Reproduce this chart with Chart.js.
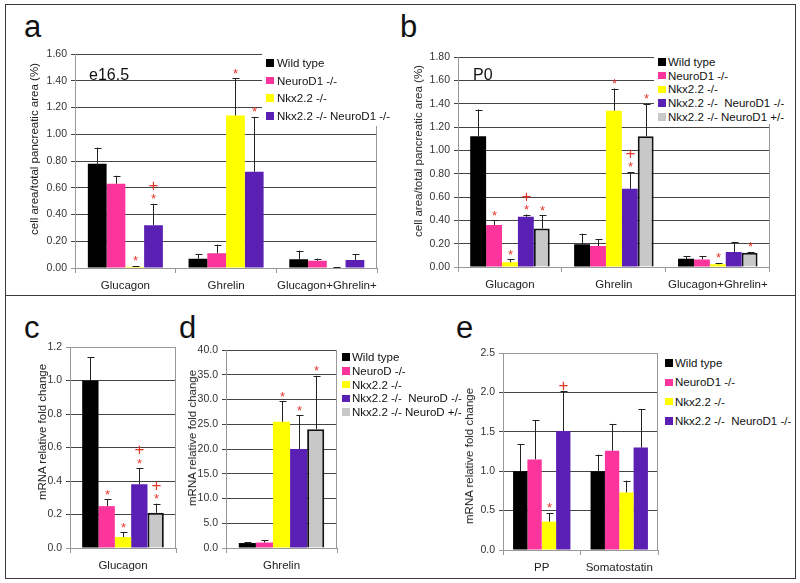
<!DOCTYPE html>
<html>
<head>
<meta charset="utf-8">
<script src="https://cdn.jsdelivr.net/npm/chart.js"></script>
<style>
  body { margin:0; background:#fff; font-family:"Liberation Sans", Arial, sans-serif; }
  #page { position:relative; width:800px; height:583px; overflow:hidden; }
  .box { position:absolute; box-sizing:border-box; border:1.5px solid #3a3a3a; }
  .wrap { position:absolute; }
  .letter { position:absolute; font-size:31px; line-height:1; color:#111; }
  .stage { position:absolute; font-size:16px; line-height:1; color:#111; }
  .legend { position:absolute; background:#fff; }
  .row { position:absolute; white-space:pre; font-size:11.5px; line-height:14px; color:#111; }
  .sw { position:absolute; width:7.5px; height:7.5px; }
  .ytitle { position:absolute; white-space:nowrap; font-size:11.5px; line-height:14px; color:#222;
            transform:translate(-50%, -50%) rotate(-90deg); }
</style>
</head>
<body>
<div id="page">
  <div class="box" style="left:5px;top:4px;width:791px;height:292px"></div>
  <div class="box" style="left:5px;top:294.5px;width:791px;height:284px"></div>

  <div class="letter" style="left:24px;top:11px">a</div>
  <div class="letter" style="left:400px;top:11px">b</div>
  <div class="letter" style="left:24px;top:312px">c</div>
  <div class="letter" style="left:179px;top:312px">d</div>
  <div class="letter" style="left:456px;top:312px">e</div>

  <div class="wrap" style="left:27px;top:40px"><canvas id="ca" width="356" height="254"></canvas></div>
  <div class="wrap" style="left:411px;top:43px"><canvas id="cb" width="363" height="250"></canvas></div>
  <div class="wrap" style="left:35px;top:333px"><canvas id="cc" width="143" height="241"></canvas></div>
  <div class="wrap" style="left:185px;top:336px"><canvas id="cd" width="154" height="238"></canvas></div>
  <div class="wrap" style="left:462px;top:339px"><canvas id="ce" width="198" height="237"></canvas></div>

  <div class="ytitle" style="left:33.5px;top:149px">cell area/total pancreatic area (%)</div>
  <div class="ytitle" style="left:418px;top:151px">cell area/total pancreatic area (%)</div>
  <div class="ytitle" style="left:42px;top:432px">mRNA relative fold change</div>
  <div class="ytitle" style="left:192px;top:438px">mRNA relative fold change</div>
  <div class="ytitle" style="left:469px;top:456px">mRNA relative fold change</div>

  <div class="stage" style="left:89px;top:66.5px">e16.5</div>
  <div class="stage" style="left:473px;top:66.5px">P0</div>
</div>

<script>
// ---- data ----
const catsTop = ['Glucagon', 'Ghrelin', 'Glucagon+Ghrelin+'];
const catsC = ['Glucagon'];
const catsD = ['Ghrelin'];
const catsE = ['PP', 'Somatostatin'];

const legendA = ['Wild type', 'NeuroD1 -/-', 'Nkx2.2 -/-', 'Nkx2.2 -/- NeuroD1 -/-'];
const legendB = ['Wild type', 'NeuroD1 -/-', 'Nkx2.2 -/-', 'Nkx2.2 -/-  NeuroD1 -/-', 'Nkx2.2 -/- NeuroD1 +/-'];
const legendD = ['Wild type', 'NeuroD -/-', 'Nkx2.2 -/-', 'Nkx2.2 -/-  NeuroD -/-', 'Nkx2.2 -/- NeuroD +/-'];
const legendE = ['Wild type', 'NeuroD1 -/-', 'Nkx2.2 -/-', 'Nkx2.2 -/-  NeuroD1 -/-'];

// a: e16.5, cell area / total pancreatic area (%)
const aWild    = [0.78, 0.07, 0.065];
const aNeuroD1 = [0.63, 0.11, 0.055];
const aNkx     = [0.01, 1.14, 0.003];
const aDouble  = [0.32, 0.72, 0.06];
const aErr = [[0.12, 0.035, 0.065], [0.06, 0.065, 0.015], [0.005, 0.28, 0.002], [0.16, 0.41, 0.045]];
const aMarks = [['', '', ''], ['', '', ''], ['*', '*', ''], ['*+', '*', '']];

// b: P0
const bWild    = [1.12, 0.195, 0.07];
const bNeuroD1 = [0.36, 0.18, 0.065];
const bNkx     = [0.04, 1.34, 0.023];
const bDouble  = [0.43, 0.67, 0.128];
const bHet     = [0.33, 1.12, 0.123];
const bErr = [[0.23, 0.09, 0.025], [0.04, 0.06, 0.03], [0.025, 0.19, 0.012], [0.02, 0.145, 0.087], [0.115, 0.28, 0.007]];
const bMarks = [['', '', ''], ['*', '', ''], ['*', '*', '*'], ['*+', '*+', ''], ['*', '*', '*']];

// c: glucagon mRNA
const cValues = [[1.00], [0.25], [0.065], [0.38], [0.21]];
const cErr = [[0.14], [0.04], [0.03], [0.095], [0.055]];
const cMarks = [[''], ['*'], ['*'], ['*+'], ['*+']];

// d: ghrelin mRNA
const dValues = [[1.0], [1.1], [25.5], [20.0], [24.0]];
const dErr = [[0.2], [0.5], [4.1], [6.8], [10.8]];
const dMarks = [[''], [''], ['*'], ['*'], ['*']];

// e: PP / somatostatin mRNA
const eWild    = [1.00, 1.00];
const eNeuroD1 = [1.15, 1.26];
const eNkx     = [0.36, 0.73];
const eDouble  = [1.51, 1.30];
const eErr = [[0.34, 0.21], [0.50, 0.34], [0.11, 0.15], [0.51, 0.49]];
const eMarks = [['', ''], ['', ''], ['*', ''], ['+', '']];

const ticksA = ['0.00', '0.20', '0.40', '0.60', '0.80', '1.00', '1.20', '1.40', '1.60'];
const ticksB = ['0.00', '0.20', '0.40', '0.60', '0.80', '1.00', '1.20', '1.40', '1.60', '1.80'];
const ticksC = ['0.0', '0.2', '0.4', '0.6', '0.8', '1.0', '1.2'];
const ticksD = ['0.0', '5.0', '10.0', '15.0', '20.0', '25.0', '30.0', '35.0', '40.0'];
const ticksE = ['0.0', '0.5', '1.0', '1.5', '2.0', '2.5'];

const colors = ['#000000', '#fb359c', '#ffff00', '#5a20b4', '#c8c8c8'];
const F = '"Liberation Sans", Arial, sans-serif';

// error bars + significance marks
const errorBars = {
  id: 'errorBars',
  afterDatasetsDraw(chart, args, opt) {
    const { ctx } = chart, y = chart.scales.y;
    chart.data.datasets.forEach((ds, i) => {
      chart.getDatasetMeta(i).data.forEach((bar, j) => {
        const v = ds.data[j], e = opt.errs[i][j];
        const top = y.getPixelForValue(v + e);
        const x = Math.round(bar.x) + 0.5;
        ctx.save();
        ctx.strokeStyle = '#222'; ctx.lineWidth = 1;
        ctx.beginPath();
        ctx.moveTo(x, bar.y); ctx.lineTo(x, top);
        ctx.moveTo(x - 3, Math.round(top) + 0.5); ctx.lineTo(x + 4, Math.round(top) + 0.5);
        ctx.stroke();
        const m = opt.marks[i][j];
        ctx.fillStyle = '#e5352b'; ctx.textAlign = 'center'; ctx.textBaseline = 'alphabetic';
        let base = top;
        if (m.includes('*')) {
          ctx.font = '13px ' + F;
          ctx.fillText('*', x, base - 0.5);
          base -= 13;
        }
        if (m.includes('+')) {
          ctx.font = '17px ' + F;
          ctx.fillText('+', x, base);
        }
        ctx.restore();
      });
    });
  }
};

const frame = {
  id: 'frame',
  beforeDatasetsDraw(chart) {
    const { ctx, chartArea: a } = chart;
    ctx.save();
    ctx.strokeStyle = '#999'; ctx.lineWidth = 1;
    ctx.beginPath();
    ctx.moveTo(Math.round(a.right) - 0.5, a.top); ctx.lineTo(Math.round(a.right) - 0.5, a.bottom);
    ctx.stroke();
    ctx.restore();
  }
};

function makeChart(id, cats, labels, series, errs, marks, ticks, geo) {
  const yMax = parseFloat(ticks[ticks.length - 1]);
  const step = parseFloat(ticks[1]);
  return new Chart(document.getElementById(id), {
    type: 'bar',
    data: {
      labels: cats,
      datasets: series.map((d, i) => ({
        label: labels[i], data: d,
        backgroundColor: colors[i],
        borderColor: '#111', borderWidth: i === 4 ? 2 : 0,
        categoryPercentage: geo.cat, barPercentage: 1
      }))
    },
    options: {
      responsive: false, animation: false,
      layout: { padding: { top: geo.padTop, right: 2, left: 0, bottom: 0 } },
      plugins: { legend: { display: false }, tooltip: { enabled: false }, errorBars: { errs, marks } },
      scales: {
        x: {
          grid: { drawOnChartArea: false, color: '#999', tickLength: 5 },
          border: { color: '#999' },
          ticks: { font: { size: 11.5, family: F }, color: '#222', padding: 6, maxRotation: 0, minRotation: 0, autoSkip: false },
          afterFit: s => { s.height = 26; }
        },
        y: {
          min: 0, max: yMax,
          ticks: { stepSize: step, callback: (v, i) => ticks[i], font: { size: 10.5, family: F }, color: '#333', padding: 4 },
          grid: {
            tickLength: 4,
            color: c => (c.tick && (c.tick.value === 0 || (geo.topGray && c.index === ticks.length - 1))) ? '#999' : '#444'
          },
          border: { color: '#999' },
          afterFit: s => { s.width = geo.yW; }
        }
      }
    },
    plugins: [errorBars, frame]
  });
}

function makeLegend(labels, geo) {
  const page = document.getElementById('page');
  if (geo.box) {
    const bx = document.createElement('div');
    bx.className = 'legend';
    Object.assign(bx.style, { left: geo.box[0] + 'px', top: geo.box[1] + 'px', width: geo.box[2] + 'px', height: geo.box[3] + 'px' });
    page.appendChild(bx);
  }
  labels.forEach((t, i) => {
    const y = geo.y0 + i * geo.dy;
    const sw = document.createElement('div');
    sw.className = 'sw';
    sw.style.left = geo.sx + 'px'; sw.style.top = (y - 3.75) + 'px'; sw.style.background = colors[i];
    const tx = document.createElement('div');
    tx.className = 'row';
    tx.style.left = geo.tx + 'px'; tx.style.top = (y - 7) + 'px';
    tx.textContent = t;
    page.appendChild(sw); page.appendChild(tx);
  });
}

makeChart('ca', catsTop, legendA, [aWild, aNeuroD1, aNkx, aDouble], aErr, aMarks, ticksA,
  { yW: 48, padTop: 14, cat: 0.745 });
makeChart('cb', catsTop, legendB, [bWild, bNeuroD1, bNkx, bDouble, bHet], bErr, bMarks, ticksB,
  { yW: 47, padTop: 14, cat: 0.765 });
makeChart('cc', catsC, legendB, cValues, cErr, cMarks, ticksC,
  { yW: 35, padTop: 14, cat: 0.77, topGray: true });
makeChart('cd', catsD, legendD, dValues, dErr, dMarks, ticksD,
  { yW: 41, padTop: 14, cat: 0.77 });
makeChart('ce', catsE, legendE, [eWild, eNeuroD1, eNkx, eDouble], eErr, eMarks, ticksE,
  { yW: 41, padTop: 14, cat: 0.74, topGray: true });

makeLegend(legendA, { box: [262, 50, 135, 76], sx: 266, tx: 277, y0: 63, dy: 17.6 });
makeLegend(legendB, { box: [654, 52, 140, 72], sx: 658, tx: 668, y0: 62, dy: 13.7 });
makeLegend(legendD, { sx: 342, tx: 352, y0: 357, dy: 13.8 });
makeLegend(legendE, { sx: 665, tx: 675, y0: 363, dy: 19.3 });
</script>
</body>
</html>
